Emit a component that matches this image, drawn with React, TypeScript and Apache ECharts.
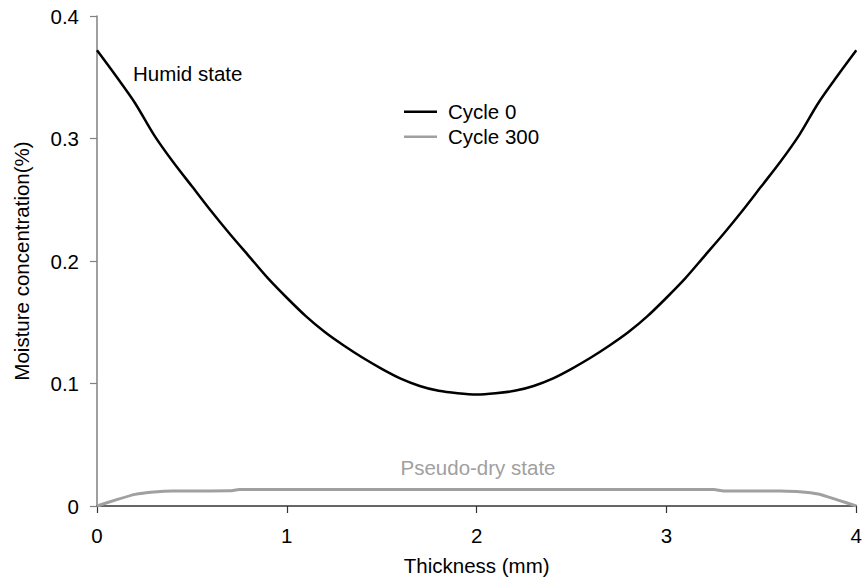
import React, { useEffect, useRef } from "react";
import * as echarts from "echarts";

const thickness = [
  0, 0.1, 0.2, 0.3, 0.4, 0.5, 0.6, 0.7, 0.8, 0.9, 1.0, 1.1, 1.2, 1.3, 1.4, 1.5, 1.6, 1.7, 1.8, 1.9, 2.0,
  2.1, 2.2, 2.3, 2.4, 2.5, 2.6, 2.7, 2.8, 2.9, 3.0, 3.1, 3.2, 3.3, 3.4, 3.5, 3.6, 3.7, 3.8, 3.9, 4.0,
];
const cycle0 = [
  0.372, 0.351, 0.329, 0.303, 0.281, 0.261, 0.241, 0.222, 0.204, 0.186, 0.170, 0.155, 0.142, 0.131, 0.121,
  0.112, 0.104, 0.098, 0.094, 0.092, 0.091, 0.092, 0.094, 0.098, 0.104, 0.112, 0.121, 0.131, 0.142, 0.155,
  0.170, 0.186, 0.204, 0.222, 0.241, 0.261, 0.281, 0.303, 0.329, 0.351, 0.372,
];
const cycle300X = [0, 0.1, 0.2, 0.3, 0.4, 0.5, 0.6, 0.7, 0.75, 1.0, 2.0, 3.0, 3.25, 3.3, 3.5, 3.6, 3.7, 3.8, 3.9, 4.0];
const cycle300 = [
  0, 0.005, 0.0095, 0.0115, 0.0123, 0.0123, 0.0123, 0.0124, 0.0135, 0.0135, 0.0135, 0.0135, 0.0135, 0.0123,
  0.0123, 0.0122, 0.0117, 0.0098, 0.005, 0,
];
const xTicks = [0, 1, 2, 3, 4];
const yTicks = [0, 0.1, 0.2, 0.3, 0.4];

const FONT = "'Liberation Sans', Arial, Helvetica, sans-serif";
const FS = 20.5;
const LINE_ICON = "path://M0,0L0,0M0,7L33,7L33,9.6L0,9.6ZM0,16L0,16";

export default function App() {
  const ref = useRef<HTMLDivElement>(null);
  useEffect(() => {
    if (!ref.current) return;
    const chart = echarts.init(ref.current, null, { renderer: "svg" });
    chart.setOption({
      animation: false,
      backgroundColor: "#ffffff",
      textStyle: { fontFamily: FONT },
      grid: { left: 97, right: 5, top: 16, bottom: 77 },
      xAxis: {
        type: "value",
        min: xTicks[0],
        max: xTicks[xTicks.length - 1],
        interval: 1,
        name: "Thickness (mm)",
        nameLocation: "middle",
        nameGap: 49,
        nameTextStyle: { color: "#000", fontSize: FS, fontFamily: FONT },
        axisLine: { show: true, onZero: false, lineStyle: { color: "#333", width: 1.5 } },
        axisTick: { show: true, inside: false, length: 7, lineStyle: { color: "#333", width: 1.2 } },
        axisLabel: { color: "#000", fontSize: FS, fontFamily: FONT, margin: 19 },
        splitLine: { show: false },
      },
      yAxis: {
        type: "value",
        min: yTicks[0],
        max: yTicks[yTicks.length - 1],
        interval: 0.1,
        name: "Moisture concentration(%)",
        nameLocation: "middle",
        nameGap: 65,
        nameTextStyle: { color: "#000", fontSize: FS, fontFamily: FONT },
        axisLine: { show: true, onZero: false, lineStyle: { color: "#808080", width: 1.5 } },
        axisTick: { show: true, inside: false, length: 7, lineStyle: { color: "#808080", width: 1.2 } },
        axisLabel: { color: "#000", fontSize: FS, fontFamily: FONT, margin: 18 },
        splitLine: { show: false },
      },
      legend: {
        left: 404,
        top: 101,
        orient: "vertical",
        padding: 0,
        itemWidth: 33,
        itemHeight: 16,
        itemGap: 4,
        symbolKeepAspect: false,
        textStyle: { color: "#000", fontSize: FS, fontFamily: FONT, padding: [0, 0, 0, 6] },
        data: [
          { name: "Cycle 0", icon: LINE_ICON, itemStyle: { color: "#000" } },
          { name: "Cycle 300", icon: LINE_ICON, itemStyle: { color: "#a0a0a0" } },
        ],
      },
      series: [
        {
          name: "Cycle 0",
          type: "line",
          symbol: "none",
          smooth: 0.3,
          lineStyle: { color: "#000", width: 2.5 },
          itemStyle: { color: "#000" },
          data: thickness.map((x, i) => [x, cycle0[i]]),
        },
        {
          name: "Cycle 300",
          type: "line",
          symbol: "none",
          smooth: 0.2,
          lineStyle: { color: "#a0a0a0", width: 3 },
          itemStyle: { color: "#a0a0a0" },
          data: cycle300X.map((x, i) => [x, cycle300[i]]),
        },
      ],
      graphic: [
        {
          type: "text",
          left: 133,
          top: 63,
          style: { text: "Humid state", fill: "#000", fontSize: FS, fontFamily: FONT },
        },
        {
          type: "text",
          x: 478,
          y: 467,
          style: {
            text: "Pseudo-dry state",
            fill: "#a0a0a0",
            fontSize: FS,
            fontFamily: FONT,
            align: "center",
            verticalAlign: "middle",
          },
        },
      ],
    });
    return () => chart.dispose();
  }, []);
  return <div ref={ref} style={{ width: 865, height: 583, position: "absolute", left: 0, top: 0 }} />;
}
